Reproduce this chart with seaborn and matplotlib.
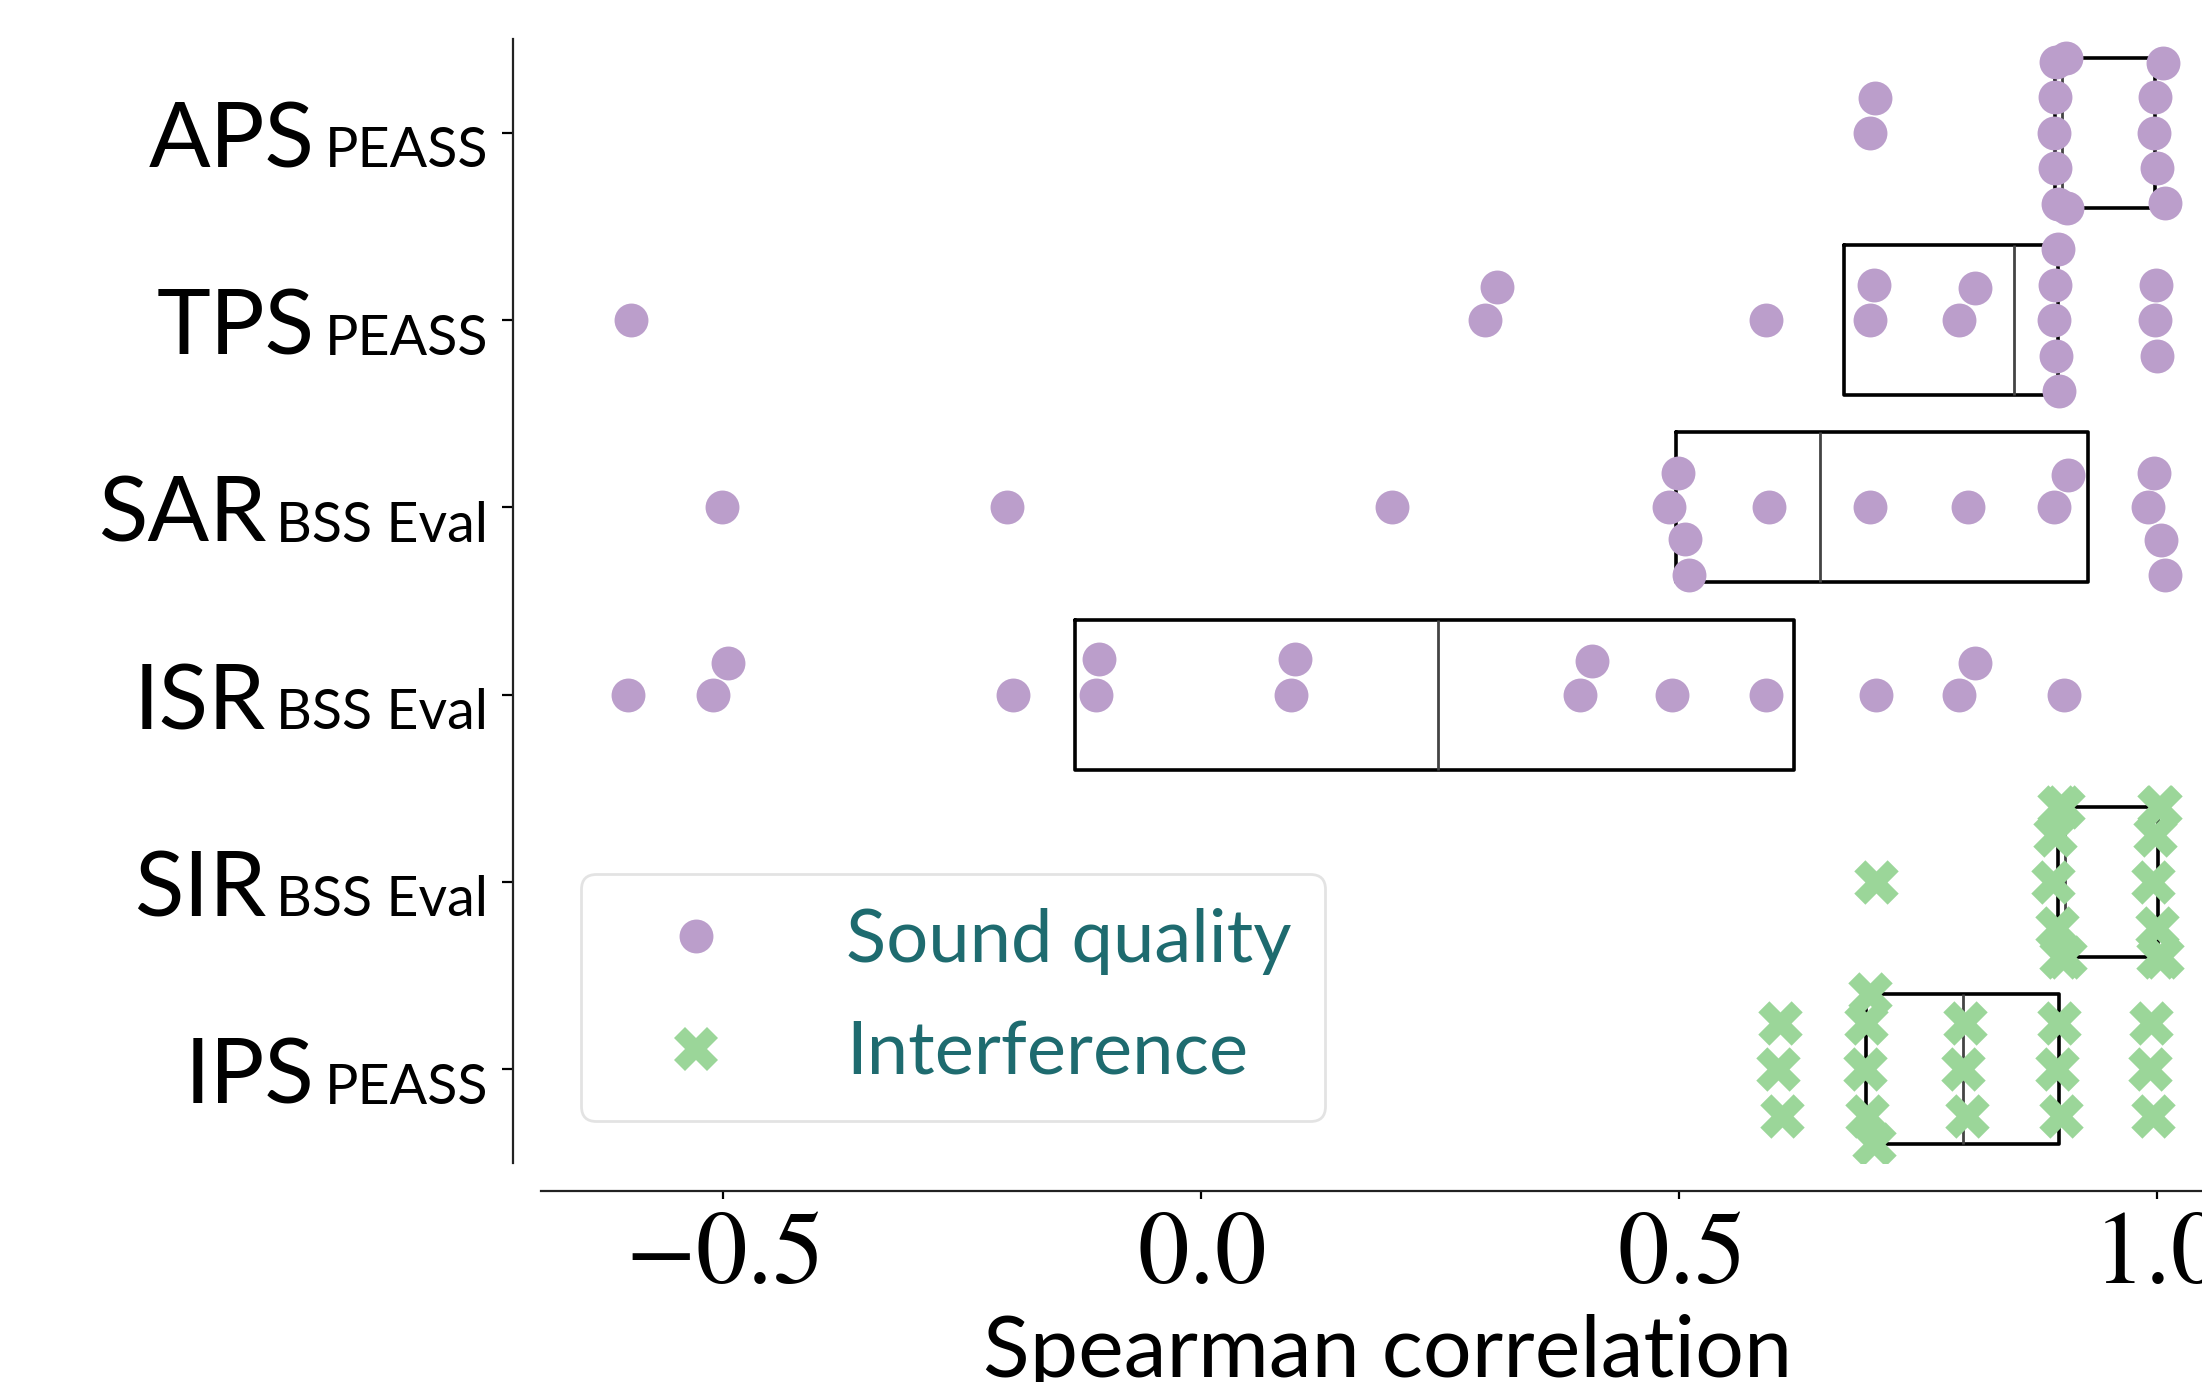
import matplotlib.pyplot as plt
from matplotlib.lines import Line2D
from matplotlib.ticker import FuncFormatter
import pandas as pd
import seaborn as sns
from seaborn.categorical import Beeswarm

# metric names, toolkit (shown small after the name) and group
metrics = ['APS', 'TPS', 'SAR', 'ISR', 'SIR', 'IPS']
toolkits = ['PEASS', 'PEASS', 'BSS Eval', 'BSS Eval', 'BSS Eval', 'PEASS']
groups = ['Sound quality', 'Sound quality', 'Sound quality', 'Sound quality',
          'Interference', 'Interference']

# spearman correlations
aps = [0.700, 0.705, 0.892, 0.893, 0.893, 0.894, 0.896, 0.905, 0.906,
       0.997, 0.998, 1.000, 1.006, 1.008]
tps = [-0.596, 0.297, 0.310, 0.591, 0.700, 0.704, 0.793, 0.809, 0.892,
       0.893, 0.894, 0.896, 0.897, 0.998, 0.999, 1.000]
sar = [-0.501, -0.203, 0.200, 0.490, 0.499, 0.506, 0.510, 0.594, 0.700,
       0.802, 0.892, 0.907, 0.990, 0.997, 1.004, 1.008]
isr = [-0.599, -0.510, -0.494, -0.196, -0.110, -0.106, 0.094, 0.099, 0.397,
       0.409, 0.493, 0.591, 0.706, 0.793, 0.809, 0.903]
sir = [0.706, 0.891, 0.893, 0.895, 0.897, 0.899, 0.902, 0.904, 0.996,
       0.998, 1.000, 1.001, 1.002, 1.003, 1.005]
ips = [0.604, 0.606, 0.608, 0.695, 0.696, 0.697, 0.700, 0.704, 0.797,
       0.799, 0.801, 0.895, 0.897, 0.899, 0.992, 0.994, 0.996]

values = [aps, tps, sar, isr, sir, ips]

colors = {'Sound quality': '#bb9ecb', 'Interference': '#9bd699'}
markers = {'Sound quality': 'o', 'Interference': 'X'}
sizes = {'Sound quality': 12.2, 'Interference': 16}
teal = '#1e6b6f'

# the original swarm stacks the second point of a pair above the first
_candidates = Beeswarm.position_candidates


def _upper_first(self, xyr_i, neighbors):
    c = _candidates(self, xyr_i, neighbors)
    if len(c) > 1:
        c[1:] = c[1:].reshape(-1, 2, 3)[:, ::-1].reshape(-1, 3)
    return c


Beeswarm.position_candidates = _upper_first

rows = []
for m, g, vals in zip(metrics, groups, values):
    for v in vals:
        rows.append({'metric': m, 'group': g, 'corr': v})
df = pd.DataFrame(rows)

sns.set_style('ticks')
plt.rcParams['font.family'] = ['Lato', 'DejaVu Sans']
plt.rcParams['mathtext.fontset'] = 'stix'
plt.rcParams['text.color'] = 'black'
plt.rcParams['axes.labelcolor'] = 'black'
plt.rcParams['xtick.color'] = 'black'
plt.rcParams['ytick.color'] = 'black'

fig = plt.figure(figsize=(11.01, 6.91), dpi=200)
ax = fig.add_axes([0.2456, 0.1586, 0.7688, 0.813])

sns.boxplot(data=df, x='corr', y='metric', order=metrics, ax=ax,
            fill=False, color='black', width=0.8, linewidth=1.3,
            whis=0, showcaps=False, showfliers=False,
            medianprops={'color': '#444444', 'linewidth': 1.0})

for g in ['Sound quality', 'Interference']:
    sns.swarmplot(data=df[df['group'] == g], x='corr', y='metric',
                  order=metrics, ax=ax, color=colors[g], marker=markers[g],
                  size=sizes[g], linewidth=0, zorder=3)

ax.set_xlim(-0.69, 1.08)
ax.set_xticks([-0.5, 0.0, 0.5, 1.0])
ax.xaxis.set_major_formatter(FuncFormatter(lambda v, p: r'$%.1f$' % v))
ax.set_xlabel('Spearman correlation', fontsize=31, labelpad=4.5)
ax.set_ylabel('')
ax.set_yticklabels([])
ax.tick_params(axis='x', labelsize=37, length=3, width=0.8, pad=3)
ax.tick_params(axis='y', length=4, width=0.8)

sns.despine(ax=ax, offset=10)
for s in ['left', 'bottom']:
    ax.spines[s].set_linewidth(0.8)
    ax.spines[s].set_color('#222222')

# y labels: big metric name followed by smaller toolkit name
for i, (m, t) in enumerate(zip(metrics, toolkits)):
    sub = ax.annotate(t, xy=(0, i), xycoords=ax.get_yaxis_transform(),
                      xytext=(-19, -12.4), textcoords='offset points',
                      ha='right', va='baseline', fontsize=20)
    ax.annotate(m, xy=(0, i), xycoords=(sub, 'data'),
                xytext=(-3.5, -12.4), textcoords='offset points',
                ha='right', va='baseline', fontsize=32.8)

handles = [Line2D([], [], ls='none', marker=markers[g], color=colors[g],
                  markersize=sizes[g], markeredgewidth=0)
           for g in ['Sound quality', 'Interference']]
leg = ax.legend(handles, ['Sound quality', 'Interference'],
                loc='lower left', bbox_to_anchor=(0.0238, 0.0372),
                borderaxespad=0, fontsize=26.7, labelcolor=teal,
                handlelength=2.2, handletextpad=0.92, borderpad=0.45,
                labelspacing=0.62, frameon=True)
leg.get_frame().set_edgecolor('#dddddd')

fig.savefig('out.png', dpi=200)
